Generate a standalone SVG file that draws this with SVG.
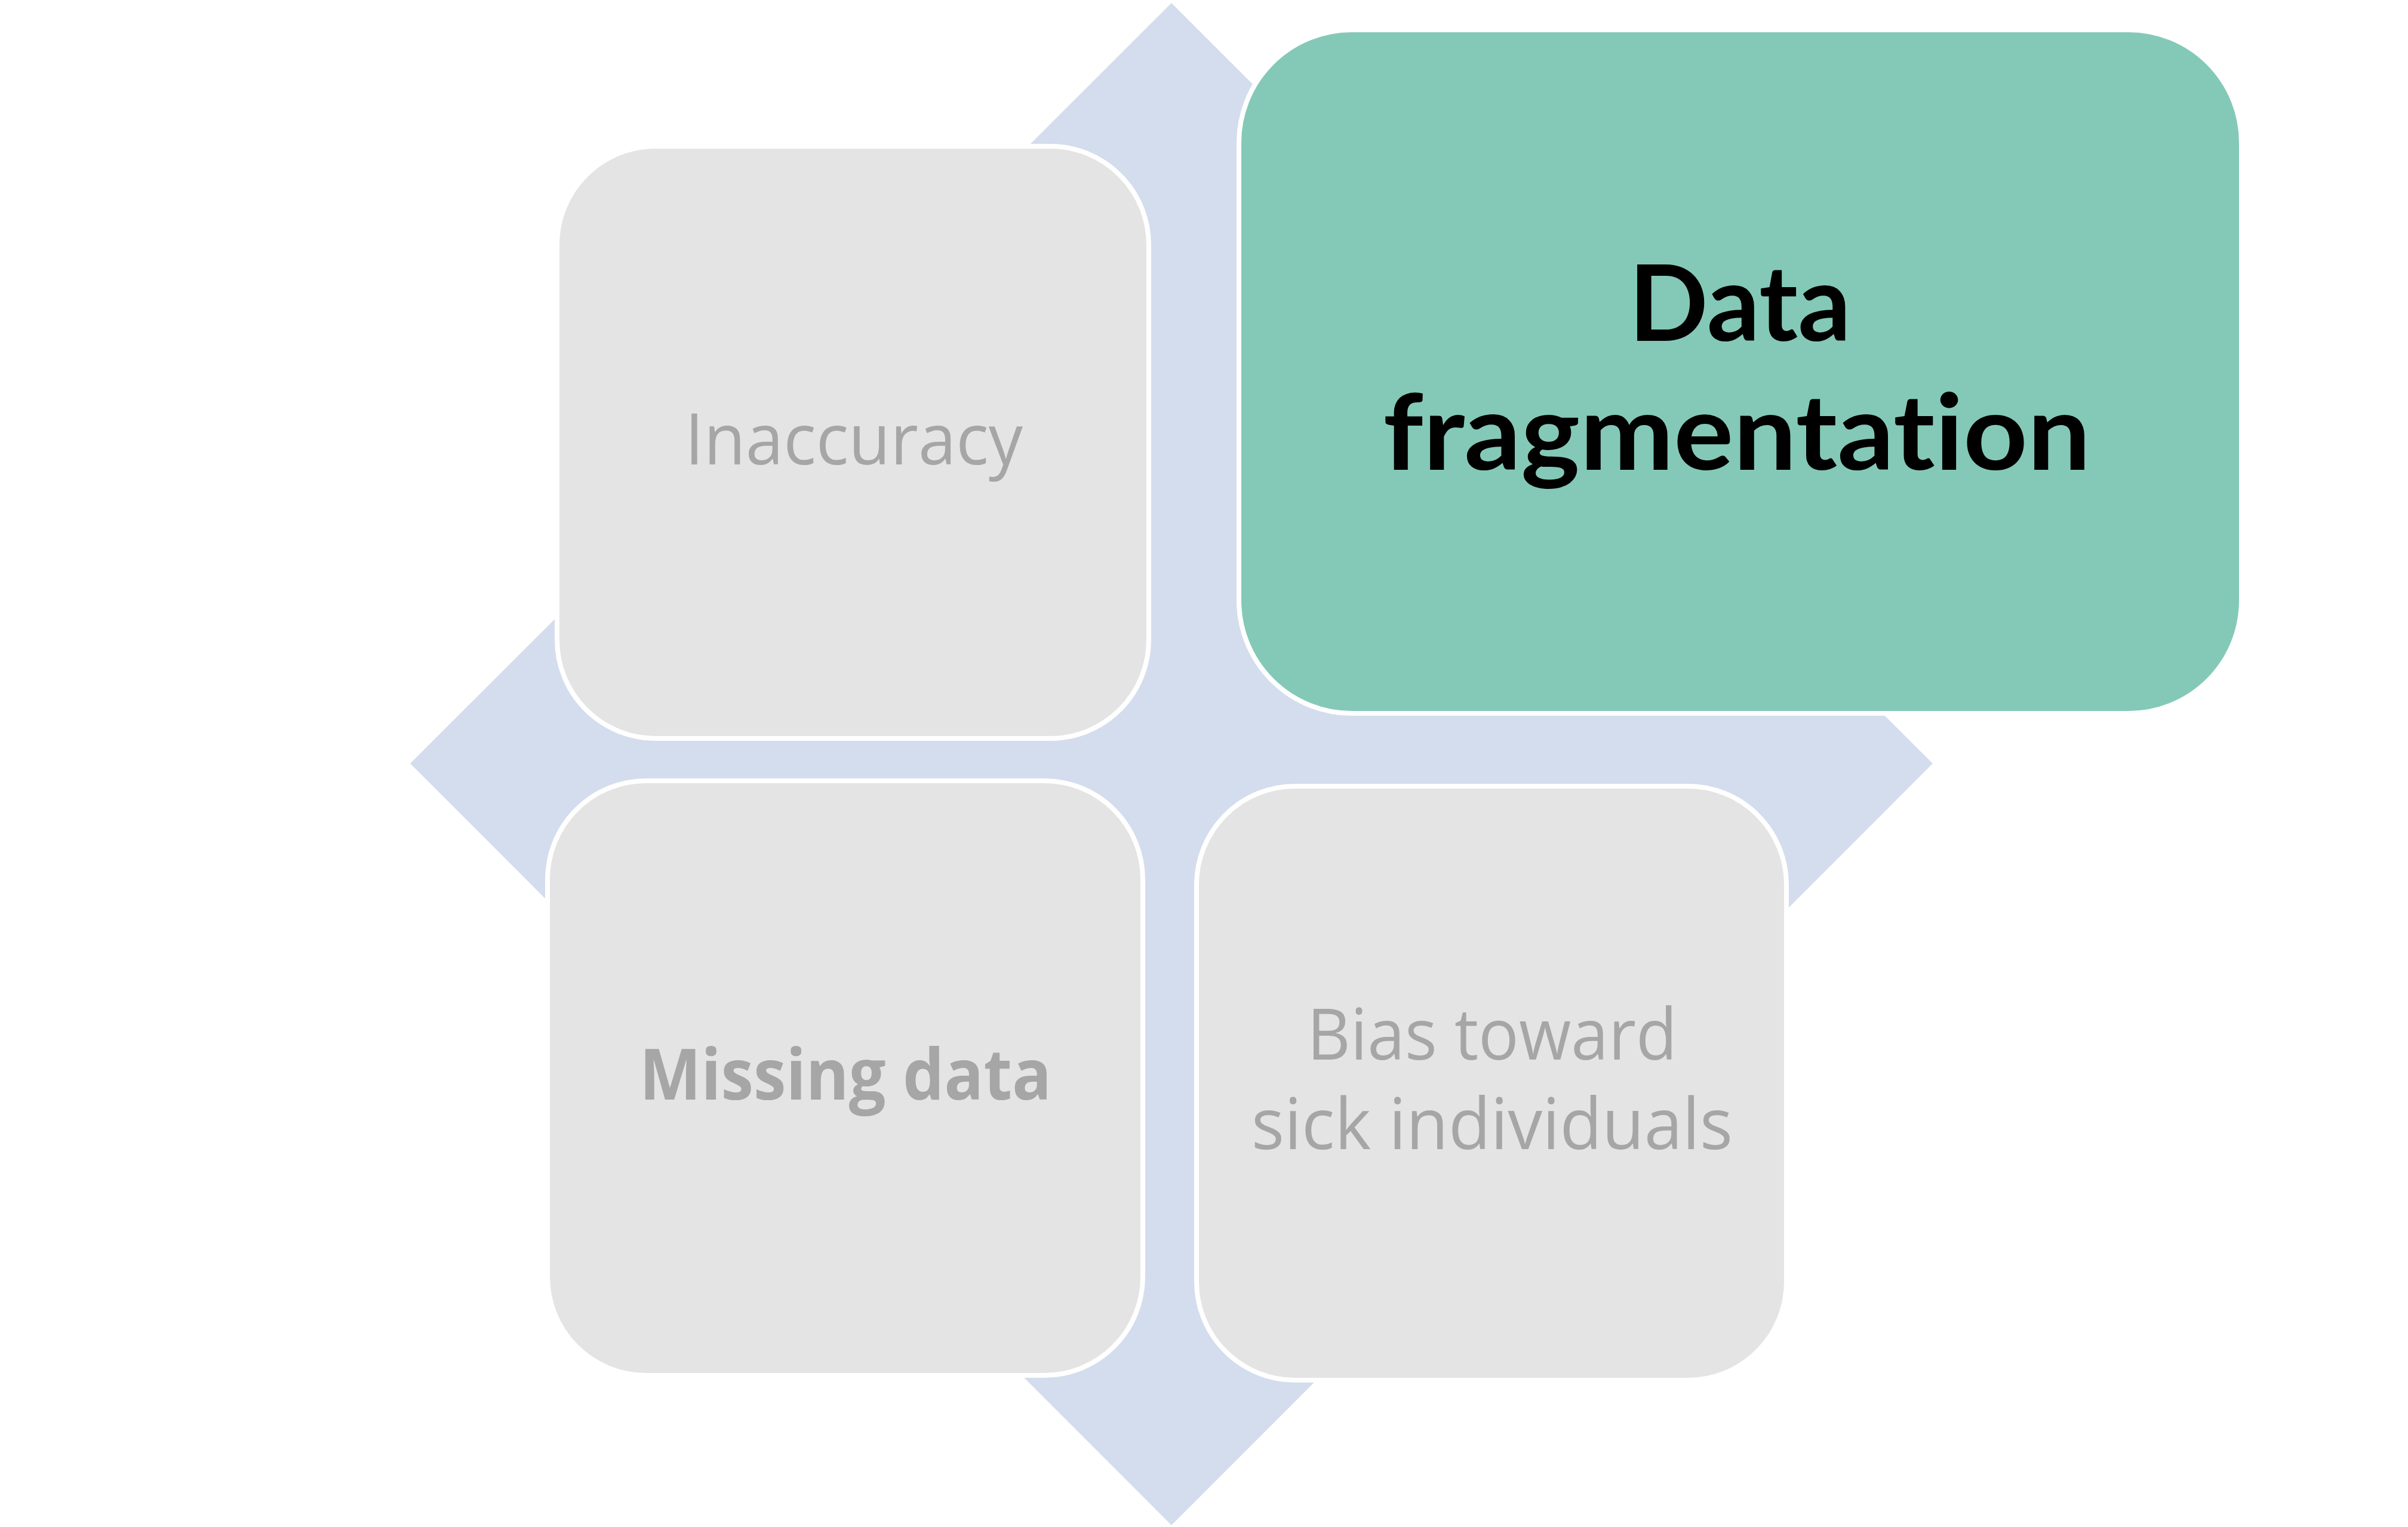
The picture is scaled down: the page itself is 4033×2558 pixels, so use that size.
<svg xmlns="http://www.w3.org/2000/svg" width="4033" height="2558" viewBox="0 0 4033 2558">
<style>
.box{stroke:#FFFFFF;stroke-width:8}
.gray{fill:#E4E4E4}
.green{fill:#84C9B7}
.t{font-family:"Open Sans","Liberation Sans",sans-serif;text-anchor:middle;font-variant-ligatures:none}
.lt{fill:#A6A6A6;font-size:119px}
.dk{fill:#000000;font-family:Lato,"Open Sans",sans-serif;font-size:176px;font-weight:bold;font-feature-settings:"liga" 0,"clig" 0,"dlig" 0}
</style>
<rect width="4033" height="2558" fill="#FFFFFF"/>
<g id="background">
<polygon points="1962,5 3237,1279 1962,2555 687,1279" fill="#D4DDED"/>
</g>
<g id="connectors"></g>
<g id="node-inaccuracy">
<rect class="box gray" x="933" y="245" width="991" height="992" rx="165" ry="165"/>
<text class="t lt" x="1430" y="778" textLength="566" lengthAdjust="spacingAndGlyphs">Inaccuracy</text>
</g>
<g id="node-data-fragmentation">
<rect class="box green" x="2075" y="50" width="1679" height="1145" rx="189" ry="189"/>
<text class="t dk" x="2914" y="571" textLength="372" lengthAdjust="spacingAndGlyphs">Data</text>
<text class="t dk" x="2909" y="787" textLength="1185" lengthAdjust="spacingAndGlyphs">fragmentation</text>
</g>
<g id="node-missing-data">
<rect class="box gray" x="917" y="1308" width="997" height="996" rx="165" ry="165"/>
<text class="t lt" x="1416" y="1842" font-weight="bold" textLength="690" lengthAdjust="spacingAndGlyphs">Missing data</text>
</g>
<g id="node-bias">
<rect class="box gray" x="2004" y="1317" width="988" height="995" rx="165" ry="165"/>
<text class="t lt" x="2499" y="1775" textLength="620" lengthAdjust="spacingAndGlyphs">Bias toward</text>
<text class="t lt" x="2499" y="1925" textLength="806" lengthAdjust="spacingAndGlyphs">sick individuals</text>
</g>
</svg>
